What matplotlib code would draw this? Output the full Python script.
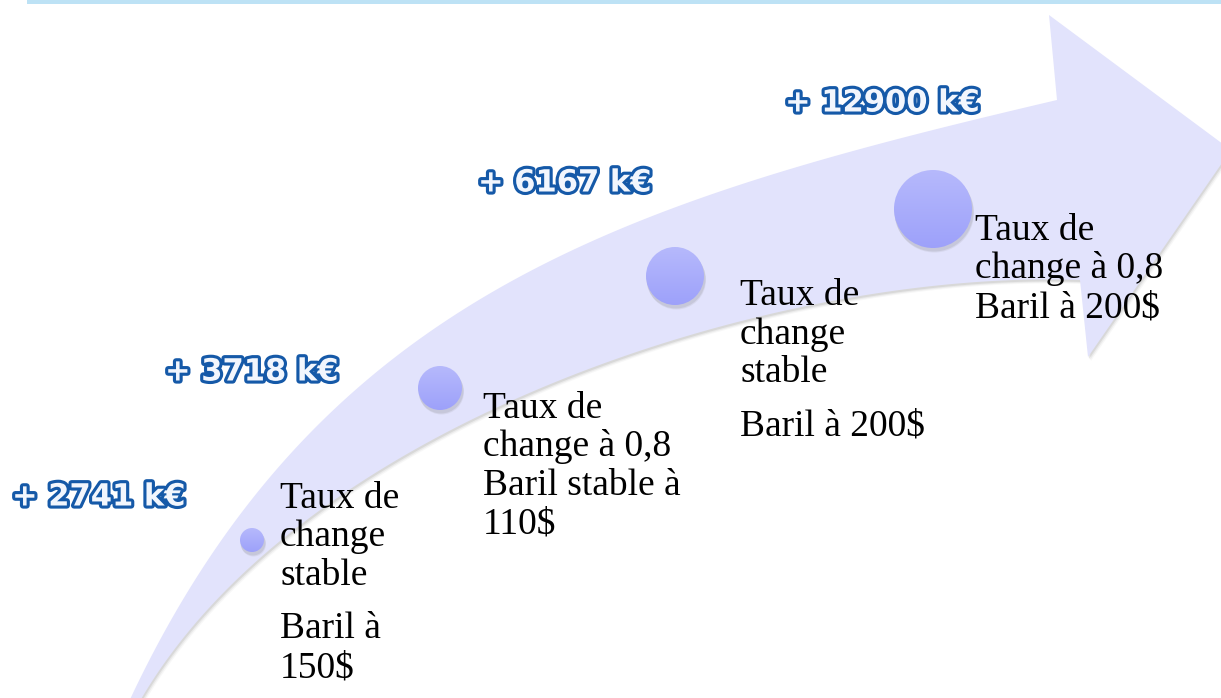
import numpy as np
import matplotlib
matplotlib.use("Agg")
import matplotlib.pyplot as plt
from matplotlib.patches import Polygon, Circle, Rectangle
from matplotlib.colors import LinearSegmentedColormap
import matplotlib.patheffects as pe

# ---------------- data ----------------
gains_keur = [2741, 3718, 6167, 12900]
scenario_lines = [
    ["Taux de", "change", "stable", "", "Baril à", "150$"],
    ["Taux de", "change à 0,8", "Baril stable à", "110$"],
    ["Taux de", "change", "stable", "", "Baril à 200$"],
    ["Taux de", "change à 0,8", "Baril à 200$"],
]

# ---------------- layout (pixel space) ----------------
W, H = 1221, 698
fig = plt.figure(figsize=(W / 100, H / 100), dpi=100)
ax = fig.add_axes([0, 0, 1, 1])
ax.set_xlim(0, W)
ax.set_ylim(H, 0)
ax.axis("off")

# top band
ax.add_patch(Rectangle((27, 0), W - 27, 4, color="#BDE2F5", lw=0, zorder=1))


def bezier_fit(pts, n=400, iters=30):
    """Least-squares cubic Bezier with fixed end points."""
    pts = np.asarray(pts, float)
    P0, P3 = pts[0], pts[-1]
    d = np.r_[0, np.cumsum(np.hypot(*np.diff(pts, axis=0).T))]
    t = d / d[-1]
    for _ in range(iters):
        b0 = (1 - t) ** 3
        b1 = 3 * t * (1 - t) ** 2
        b2 = 3 * t ** 2 * (1 - t)
        b3 = t ** 3
        A = np.c_[b1, b2]
        rhs = pts - np.outer(b0, P0) - np.outer(b3, P3)
        sol, *_ = np.linalg.lstsq(A, rhs, rcond=None)
        P1, P2 = sol
        # reparameterise: nearest point on curve
        tt = np.linspace(0, 1, 2000)
        curve = (np.outer((1 - tt) ** 3, P0) + np.outer(3 * tt * (1 - tt) ** 2, P1)
                 + np.outer(3 * tt ** 2 * (1 - tt), P2) + np.outer(tt ** 3, P3))
        dist = ((pts[:, None, :] - curve[None, :, :]) ** 2).sum(-1)
        t = tt[dist.argmin(1)]
        t[0], t[-1] = 0, 1
    tt = np.linspace(0, 1, n)
    return (np.outer((1 - tt) ** 3, P0) + np.outer(3 * tt * (1 - tt) ** 2, P1)
            + np.outer(3 * tt ** 2 * (1 - tt), P2) + np.outer(tt ** 3, P3))


upper = bezier_fit([(126, 708), (208, 570), (273, 470), (380, 363),
                    (523, 280), (760, 177), (1057, 100)])
head = np.array([(1049, 15), (1231, 150), (1088, 357), (1080, 280)], float)
lower = bezier_fit([(1080, 280), (800, 308), (673, 338), (440, 438),
                    (383, 470), (267, 550), (187, 630), (136, 708)])
outline = np.vstack([upper, head, lower[1:]])

# soft shadow
for dx, dy, a in [(3.0, 4.0, 0.06), (2.0, 3.0, 0.10), (1.0, 2.0, 0.16)]:
    ax.add_patch(Polygon(outline + np.array([dx, dy]), closed=True,
                         facecolor="#808080", edgecolor="none", alpha=a, zorder=2))
ax.add_patch(Polygon(outline, closed=True, facecolor="#E2E3FC",
                     edgecolor="none", zorder=3))

# circles with gradient
circles = [(252, 540, 12), (440, 388, 22), (675, 276, 29), (933, 209, 39)]
grad = np.linspace(0, 1, 256)[:, None]
cmap = LinearSegmentedColormap.from_list("c", ["#B6B9FC", "#9DA1FA"])
for cx, cy, r in circles:
    for dx, dy, a in [(1.5, 4, 0.10), (1, 3, 0.15)]:
        ax.add_patch(Circle((cx + dx, cy + dy), r + 0.5, facecolor="#707070",
                            edgecolor="none", alpha=a, zorder=4))
    c = Circle((cx, cy), r, facecolor="none", edgecolor="none", zorder=5)
    ax.add_patch(c)
    im = ax.imshow(grad, cmap=cmap, extent=(cx - r, cx + r, cy + r, cy - r),
                   aspect="auto", zorder=5, interpolation="bilinear")
    im.set_clip_path(c)

ax.set_xlim(0, W)
ax.set_ylim(H, 0)

# blue value labels
label_pos = [(12, 497), (165, 372), (478, 183), (785, 103)]
blue = "#1559A8"
for v, (x, y) in zip(gains_keur, label_pos):
    ax.text(x, y, f"+ {v} k€", fontsize=22, fontweight="bold",
            family="DejaVu Sans", color="#F2F6FD", ha="left", va="center",
            zorder=7,
            path_effects=[pe.SimplePatchShadow(offset=(1.5, -1.5),
                                               shadow_rgbFace="#555555", alpha=0.35),
                          pe.Stroke(linewidth=4.5, foreground=blue),
                          pe.Normal()])

# scenario texts
block_x = [280, 483, 740, 975]
block_y0 = [508, 418, 305, 240]
pitch = 38.5
para_gap = 15
for lines, x, y0 in zip(scenario_lines, block_x, block_y0):
    y = y0
    for ln in lines:
        if ln == "":
            y += para_gap
            continue
        ax.text(x, y, ln, fontsize=27, family="Liberation Serif", color="black",
                ha="left", va="baseline", zorder=8)
        y += pitch

fig.savefig("out.png", dpi=100)
